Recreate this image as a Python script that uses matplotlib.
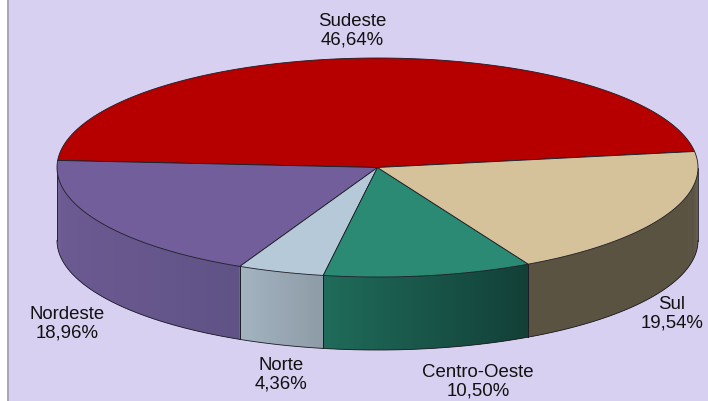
import numpy as np
from matplotlib import pyplot as plt

# Regions and their shares (%)
regions = ['Sudeste', 'Nordeste', 'Norte', 'Centro-Oeste', 'Sul']
shares = [46.64, 18.96, 4.36, 10.50, 19.54]
share_labels = ['46,64%', '18,96%', '4,36%', '10,50%', '19,54%']
top_colors = ['#b60000', '#725e9a', '#b6c9d8', '#2a8a74', '#d5c29b']
side_left = ['#8a0000', '#6c5a92', '#a3b3c0', '#1f6b5a', '#5b5342']
side_right = ['#8a0000', '#5f5285', '#8d9ba6', '#123f37', '#5b5342']
label_pos = [(352, 31), (67, 324), (281, 375), (478, 382), (672, 314)]

BG = '#d8d0f1'
CX, CY = 377.5, 167.5
RX, RY = 320.5, 109.5
DEPTH = 73
START = 8.4


def ellipse_points(a0, a1):
    t = np.radians(np.linspace(a0, a1, max(int(abs(a1 - a0) * 2), 2)))
    return CX + RX * np.cos(t), CY - RY * np.sin(t)


def draw_side(a0, a1, c0, c1):
    """Front wall of one slice, only the part below the horizon"""
    a0, a1 = max(a0, 180), min(a1, 360)
    if a1 <= a0:
        return
    c0 = np.array(plt.matplotlib.colors.to_rgb(c0))
    c1 = np.array(plt.matplotlib.colors.to_rgb(c1))
    x, y = ellipse_points(a0, a1)
    for i in range(len(x) - 1):
        f = (x[i] - x[0]) / (x[-1] - x[0])
        # small overlap so no seams show between the strips
        j = min(i + 2, len(x) - 1)
        ax.fill([x[i], x[j], x[j], x[i]],
                [y[i], y[j], y[j] + DEPTH, y[i] + DEPTH],
                color=c0 + (c1 - c0) * f, lw=0, zorder=2)
    ax.plot(x, y + DEPTH, color='#1c1c24', lw=0.6, zorder=3)
    ax.plot([x[0], x[0]], [y[0], y[0] + DEPTH], color='#1c1c24', lw=0.6, zorder=3)
    ax.plot([x[-1], x[-1]], [y[-1], y[-1] + DEPTH], color='#1c1c24', lw=0.6, zorder=3)


def main():
    global ax
    fig = plt.figure(figsize=(7.08, 4.01), dpi=100)
    ax = fig.add_axes([0, 0, 1, 1])
    ax.set_xlim(0, 708)
    ax.set_ylim(401, 0)
    ax.axis('off')

    # Panel
    ax.fill([8, 708, 708, 8], [0, 0, 401, 401], color=BG, lw=0, zorder=0)
    ax.plot([8, 8], [0, 401], color='#a8a4b8', lw=1.4, zorder=1)

    angle = START
    for i, share in enumerate(shares):
        a1 = angle + share * 3.6
        draw_side(angle, a1, side_left[i], side_right[i])
        x, y = ellipse_points(angle, a1)
        ax.fill(np.r_[CX, x], np.r_[CY, y], facecolor=top_colors[i],
                edgecolor='#1c1c24', lw=0.6, joinstyle='round', zorder=4)
        angle = a1

    for name, pct, (x, y) in zip(regions, share_labels, label_pos):
        ax.text(x, y, name + '\n' + pct, ha='center', va='center', fontsize=13.4,
                family='Liberation Sans', color='#111111', linespacing=1.13, zorder=5)

    fig.savefig('out.png', dpi=100)


if __name__ == '__main__':
    main()
